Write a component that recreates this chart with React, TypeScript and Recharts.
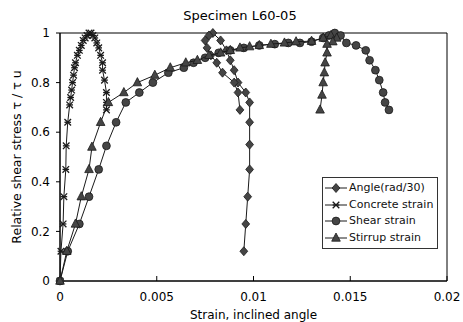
import React from 'react'
import { ScatterChart, Scatter, XAxis, YAxis, ReferenceArea, Legend } from 'recharts'

// axis ticks
const xTicks = [0, 0.005, 0.01, 0.015, 0.02]
const yTicks = [0, 0.2, 0.4, 0.6, 0.8, 1]

// Angle (rad/30)
const angleX = [0.0095, 0.0096, 0.0097, 0.0098, 0.0098, 0.0098, 0.0098, 0.0096, 0.0092, 0.009, 0.0088, 0.0086, 0.0083, 0.0079, 0.0077, 0.0075, 0.0076, 0.0078, 0.0081, 0.0084, 0.009, 0.0092, 0.0093]
const angleY = [0.12, 0.23, 0.34, 0.45, 0.55, 0.64, 0.72, 0.76, 0.8, 0.85, 0.89, 0.93, 0.97, 1.0, 0.99, 0.97, 0.94, 0.91, 0.88, 0.84, 0.8, 0.76, 0.69]

// Concrete strain
const concreteX = [0, 0.00005, 0.00016, 0.0002, 0.0003, 0.00032, 0.0004, 0.0005, 0.00055, 0.0006, 0.00065, 0.0007, 0.00075, 0.0008, 0.0009, 0.001, 0.0011, 0.0012, 0.0013, 0.0014, 0.0015, 0.0016, 0.0017, 0.0018, 0.0019, 0.002, 0.0021, 0.0022, 0.0022, 0.0023, 0.0024, 0.0024, 0.0024]
const concreteY = [0, 0.12, 0.23, 0.34, 0.45, 0.545, 0.64, 0.71, 0.74, 0.77, 0.8, 0.83, 0.86, 0.88, 0.91, 0.93, 0.95, 0.97, 0.98, 0.99, 1.0, 1.0, 0.99, 0.98, 0.96, 0.94, 0.91, 0.88, 0.85, 0.81, 0.76, 0.72, 0.69]

// Shear strain
const shearX = [0, 0.0004, 0.001, 0.0015, 0.002, 0.0024, 0.0029, 0.0034, 0.0041, 0.0048, 0.0056, 0.0064, 0.0069, 0.0075, 0.0082, 0.0088, 0.0095, 0.0103, 0.0111, 0.0118, 0.0124, 0.013, 0.0136, 0.0139, 0.0142, 0.0145, 0.0148, 0.0153, 0.0158, 0.016, 0.0163, 0.0165, 0.0167, 0.0168, 0.017]
const shearY = [0, 0.12, 0.23, 0.34, 0.45, 0.545, 0.64, 0.72, 0.76, 0.8, 0.84, 0.86, 0.88, 0.9, 0.92, 0.93, 0.94, 0.95, 0.955, 0.96, 0.96, 0.965, 0.98, 0.99, 1.0, 0.99, 0.96, 0.95, 0.93, 0.89, 0.85, 0.81, 0.76, 0.72, 0.69]

// Stirrup strain
const stirrupX = [0, 0.00035, 0.0008, 0.0011, 0.0015, 0.00165, 0.0021, 0.0025, 0.0033, 0.004, 0.0049, 0.0057, 0.0065, 0.0071, 0.0077, 0.0083, 0.0088, 0.0093, 0.0098, 0.0103, 0.0109, 0.0116, 0.0122, 0.013, 0.0136, 0.014, 0.0143, 0.0141, 0.0138, 0.0138, 0.0137, 0.01366, 0.0136, 0.01354, 0.01344]
const stirrupY = [0, 0.12, 0.23, 0.34, 0.45, 0.54, 0.64, 0.72, 0.76, 0.8, 0.83, 0.86, 0.88, 0.89, 0.91, 0.92, 0.93, 0.94, 0.945, 0.95, 0.955, 0.96, 0.965, 0.967, 0.98, 0.99, 0.98, 0.965, 0.955, 0.92, 0.88, 0.84, 0.8, 0.75, 0.69]

const FONT = '"DejaVu Sans", sans-serif'
const INK = '#1a1a1a'
const FILL = '#454545'

type Kind = 'diamond' | 'cross' | 'circle' | 'triangle'

const toPoints = (xs: number[], ys: number[]) => xs.map((x, i) => ({ x, y: ys[i] }))

const series: { name: string; kind: Kind; data: { x: number; y: number }[] }[] = [
  { name: 'Angle(rad/30)', kind: 'diamond', data: toPoints(angleX, angleY) },
  { name: 'Concrete strain', kind: 'cross', data: toPoints(concreteX, concreteY) },
  { name: 'Shear strain', kind: 'circle', data: toPoints(shearX, shearY) },
  { name: 'Stirrup strain', kind: 'triangle', data: toPoints(stirrupX, stirrupY) },
]

function Marker({ cx, cy, kind }: { cx?: number; cy?: number; kind: Kind }) {
  if (cx == null || cy == null) return null
  if (kind === 'circle') {
    return <circle cx={cx} cy={cy} r={3.9} fill={FILL} stroke={INK} strokeWidth={0.8} />
  }
  if (kind === 'diamond') {
    const p = `${cx},${cy - 4.5} ${cx + 3.9},${cy} ${cx},${cy + 4.5} ${cx - 3.9},${cy}`
    return <polygon points={p} fill={FILL} stroke={INK} strokeWidth={0.8} />
  }
  if (kind === 'triangle') {
    const p = `${cx},${cy - 5} ${cx + 4.3},${cy + 3.2} ${cx - 4.3},${cy + 3.2}`
    return <polygon points={p} fill={FILL} stroke={INK} strokeWidth={0.8} />
  }
  const d = 3.3
  return (
    <g stroke={INK} strokeWidth={1.3}>
      <line x1={cx - d} y1={cy - d} x2={cx + d} y2={cy + d} />
      <line x1={cx - d} y1={cy + d} x2={cx + d} y2={cy - d} />
      <line x1={cx - d} y1={cy} x2={cx + d} y2={cy} />
    </g>
  )
}

function LegendBox() {
  return (
    <div style={{
      border: '1px solid #333', background: '#fff', padding: '2px 0 2px 2px',
      fontFamily: FONT, fontSize: 11, lineHeight: '16.5px', color: '#111',
    }}>
      {series.map((s) => (
        <div key={s.name} style={{ display: 'flex', alignItems: 'center', whiteSpace: 'nowrap' }}>
          <svg width={22} height={12} style={{ flex: 'none' }}>
            <line x1={0} y1={6} x2={22} y2={6} stroke={INK} strokeWidth={1} />
            <Marker cx={11} cy={6} kind={s.kind} />
          </svg>
          <span style={{ marginLeft: 2 }}>{s.name}</span>
        </div>
      ))}
    </div>
  )
}

export default function App() {
  const tickStyle = { fontSize: 12, fontFamily: FONT, fill: '#000' }
  return (
    <div style={{ position: 'absolute', left: 0, top: 0, width: 463, height: 322, background: '#fff' }}>
      <div style={{
        position: 'absolute', left: 0, width: 480, top: 8, textAlign: 'center',
        fontFamily: FONT, fontSize: 13, lineHeight: '15px', color: '#000',
      }}>
        Specimen L60-05
      </div>
      <ScatterChart width={463} height={322} margin={{ top: 33, right: 16, bottom: 0, left: 0 }}>
        <XAxis
          type="number"
          dataKey="x"
          domain={[0, 0.02]}
          ticks={xTicks}
          interval={0}
          height={41}
          tickSize={-5}
          tickMargin={16}
          tick={tickStyle}
          axisLine={{ stroke: '#000' }}
          tickLine={{ stroke: '#000' }}
          label={{ value: 'Strain, inclined angle', position: 'insideBottom', offset: 3, style: { fontSize: 12, fontFamily: FONT, fill: '#000' } }}
        />
        <YAxis
          type="number"
          dataKey="y"
          domain={[0, 1]}
          ticks={yTicks}
          interval={0}
          width={60}
          tickSize={4}
          tickMargin={6}
          tick={tickStyle}
          axisLine={{ stroke: '#000' }}
          tickLine={{ stroke: '#000' }}
          label={{ value: 'Relative shear stress τ / τ u', angle: -90, position: 'insideLeft', offset: 17, style: { textAnchor: 'middle', fontSize: 12.5, fontFamily: FONT, fill: '#000' } }}
        />
        <ReferenceArea x1={0} x2={0.02} y1={0} y2={1} fill="none" stroke="#000" strokeWidth={1} ifOverflow="visible" />
        {series.map((s) => (
          <Scatter
            key={s.name}
            name={s.name}
            data={s.data}
            line={{ stroke: INK, strokeWidth: 1 }}
            lineType="joint"
            shape={(props: any) => <Marker cx={props.cx} cy={props.cy} kind={s.kind} />}
            isAnimationActive={false}
          />
        ))}
        <Legend
          layout="horizontal"
          align="center"
          verticalAlign="middle"
          content={() => <LegendBox />}
          wrapperStyle={{ left: 322, top: 177, width: 116 }}
        />
      </ScatterChart>
    </div>
  )
}
